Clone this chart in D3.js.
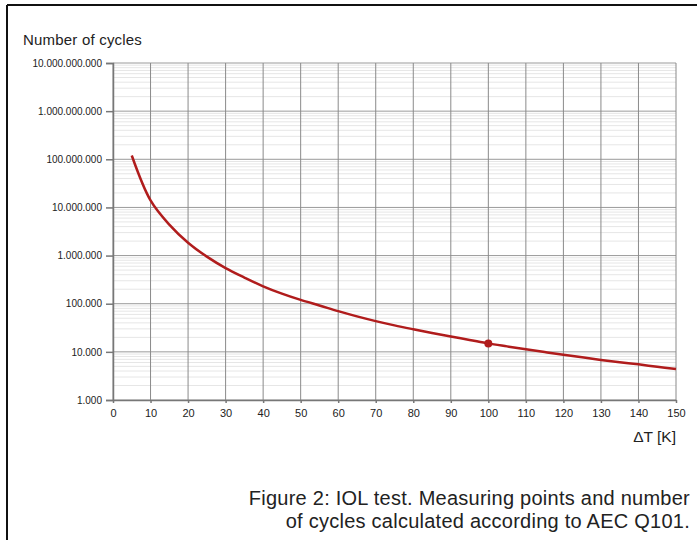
<!DOCTYPE html>
<html>
<head>
<meta charset="utf-8">
<script src="https://cdn.jsdelivr.net/npm/d3@7"></script>
<style>
  body { margin: 0; background: #fff; }
  svg { display: block; font-family: "Liberation Sans", Arial, Helvetica, sans-serif; }
</style>
</head>
<body>
<svg id="chart" width="697" height="540"></svg>
<script>
// data
let deltaT = [5, 10, 15, 20, 25, 30, 35, 40, 45, 50, 55, 60, 65, 70, 75, 80, 85, 90, 95, 100,
  105, 110, 115, 120, 125, 130, 135, 140, 145, 150];
let cycles = [1.2e8, 1.4e7, 4.4e6, 1.85e6, 9.5e5, 5.5e5, 3.5e5, 2.3e5, 1.62e5, 1.2e5, 9.2e4, 7.0e4,
  5.45e4, 4.35e4, 3.55e4, 2.95e4, 2.47e4, 2.08e4, 1.77e4, 1.5e4,
  1.3e4, 1.13e4, 9.9e3, 8.7e3, 7.7e3, 6.8e3, 6.1e3, 5.5e3, 4.9e3, 4.4e3];
let measuredT = [100];
let measuredN = [1.5e4];
let xTicks = [0, 10, 20, 30, 40, 50, 60, 70, 80, 90, 100, 110, 120, 130, 140, 150];
let yTicks = [1e3, 1e4, 1e5, 1e6, 1e7, 1e8, 1e9, 1e10];
let yTitle = "Number of cycles";
let xTitle = "\u0394T [K]";
let caption = ["Figure 2: IOL test. Measuring points and number", "of cycles calculated according to AEC Q101."];

let margin = {"left": 113, "top": 63, "bottom": 140, "right": 21};
let width = 697;
let height = 540;

let svg = d3.select("#chart");

// frame (only top and left edges show)
svg.append("line").attr("x1", 7).attr("x2", width).attr("y1", 5).attr("y2", 5)
  .attr("stroke", "#111").attr("stroke-width", 2);
svg.append("line").attr("x1", 7).attr("x2", 7).attr("y1", 5).attr("y2", height)
  .attr("stroke", "#111").attr("stroke-width", 2);

let x = d3.scaleLinear()
  .domain([0, 150])
  .range([margin.left, width - margin.right]);
let y = d3.scaleLog()
  .domain([1e3, 1e10])
  .range([height - margin.bottom, margin.top]);

function fmt(v){
  return Math.round(v).toString().replace(/\B(?=(\d{3})+(?!\d))/g, ".");
}

// minor grid
let minor = [];
for (let e = 3; e < 10; e++){
  for (let m = 2; m <= 9; m++) minor.push(m * Math.pow(10, e));
}
let grid = svg.append("g").attr("class", "grid");
grid.selectAll("line.minor")
  .data(minor)
  .join("line")
  .attr("class", "minor")
  .attr("x1", x(0)).attr("x2", x(150))
  .attr("y1", d => y(d)).attr("y2", d => y(d))
  .attr("stroke", "#e6e6e6").attr("stroke-width", 1);
grid.selectAll("line.major")
  .data(yTicks)
  .join("line")
  .attr("class", "major")
  .attr("x1", x(0)).attr("x2", x(150))
  .attr("y1", d => y(d)).attr("y2", d => y(d))
  .attr("stroke", "#9a9a9a").attr("stroke-width", 1);
grid.selectAll("line.vert")
  .data(xTicks)
  .join("line")
  .attr("class", "vert")
  .attr("x1", d => x(d)).attr("x2", d => x(d))
  .attr("y1", y(1e10)).attr("y2", y(1e3))
  .attr("stroke", "#8a8a8a").attr("stroke-width", 1);

// axes
let axisY = svg.append("g").attr("class", "axisY")
  .attr("transform", `translate(${margin.left},0)`)
  .call(d3.axisLeft(y).tickValues(yTicks).tickFormat(fmt).tickSize(7).tickPadding(4))
  .call(g => g.selectAll("line, path").attr("stroke", "#777").attr("stroke-width", 1.5))
  .call(g => g.selectAll("text").attr("font-size", 10).attr("fill", "#222").attr("font-family", null));

let axisX = svg.append("g").attr("class", "axisX")
  .attr("transform", `translate(0,${y(1e3)})`)
  .call(d3.axisBottom(x).tickValues(xTicks).tickSize(3).tickSizeOuter(0).tickPadding(6))
  .call(g => g.selectAll("line, path").attr("stroke", "#777").attr("stroke-width", 1.5))
  .call(g => g.selectAll("text").attr("font-size", 11).attr("fill", "#222").attr("font-family", null));

// curve
const line = d3.line()
  .x((d, i) => x(deltaT[i]))
  .y(d => y(d))
  .curve(d3.curveCatmullRom.alpha(0.5));

svg.append("path")
  .attr("fill", "none")
  .attr("stroke", "#b01c1c")
  .attr("stroke-width", 2.5)
  .attr("stroke-linejoin", "round")
  .attr("d", line(cycles));

svg.append("g").selectAll("circle")
  .data(measuredN)
  .join("circle")
  .attr("cx", (d, i) => x(measuredT[i]))
  .attr("cy", d => y(d))
  .attr("r", 4)
  .attr("fill", "#b01c1c");

// titles
svg.append("text")
  .attr("x", 23).attr("y", 45)
  .attr("font-size", 15).attr("fill", "#222")
  .attr("letter-spacing", 0.2)
  .text(yTitle);

svg.append("text")
  .attr("x", x(150)).attr("y", 442)
  .attr("text-anchor", "end")
  .attr("font-size", 15.5).attr("fill", "#222")
  .text(xTitle);

svg.append("g").selectAll("text")
  .data(caption)
  .join("text")
  .attr("x", 690)
  .attr("y", (d, i) => 505 + i * 23)
  .attr("text-anchor", "end")
  .attr("font-size", 20)
  .attr("letter-spacing", 0.25)
  .attr("fill", "#222")
  .text(d => d);
</script>
</body>
</html>
